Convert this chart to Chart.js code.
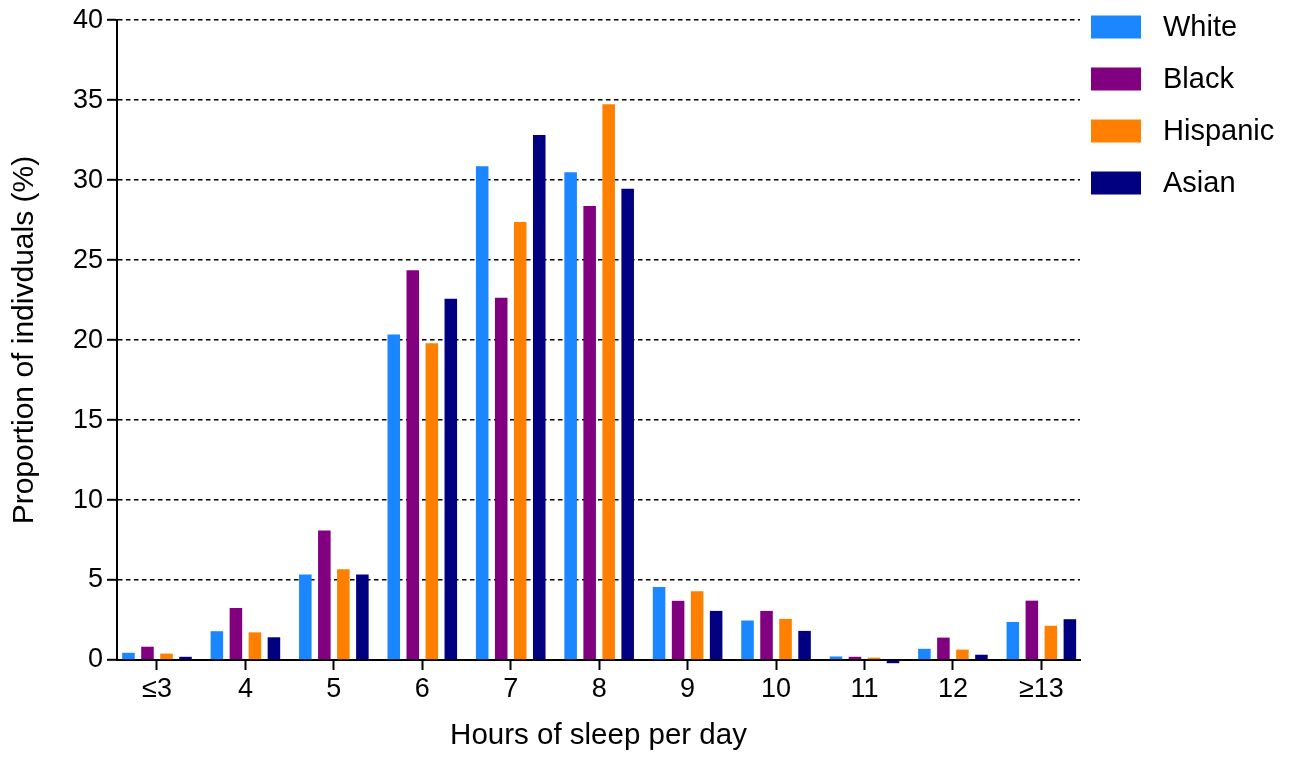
<!DOCTYPE html>
<html><head><meta charset="utf-8">
<script src="https://cdn.jsdelivr.net/npm/chart.js@4.4.1/dist/chart.umd.min.js"></script>
<style>html,body{margin:0;padding:0;background:#fff;} #wrap{width:1295px;height:759px;position:relative;}</style>
</head><body><div id="wrap"><canvas id="c"></canvas></div>
<script>
const categories = ['≤3','4','5','6','7','8','9','10','11','12','≥13'];
const seriesNames = ['White','Black','Hispanic','Asian'];
const white    = [0.45, 1.80, 5.35, 20.35, 30.87, 30.50, 4.56, 2.47, 0.22, 0.70, 2.38];
const black    = [0.83, 3.25, 8.10, 24.36, 22.64, 28.38, 3.70, 3.07, 0.20, 1.40, 3.71];
const hispanic = [0.40, 1.73, 5.67, 19.80, 27.39, 34.75, 4.30, 2.57, 0.15, 0.65, 2.14];
const asian    = [0.20, 1.42, 5.35, 22.58, 32.82, 29.46, 3.07, 1.82, -0.20, 0.33, 2.55];
const yTicks = [0, 5, 10, 15, 20, 25, 30, 35, 40];
const xTitle = 'Hours of sleep per day';
const yTitle = 'Proportion of indivduals (%)';
const colors = ['#1A86FF', '#800080', '#FF8000', '#000080'];

const FONT = "'Liberation Sans', Arial, sans-serif";
const seriesValues = [white, black, hispanic, asian];

const legendPlugin = {
  id: 'sideLegend',
  afterDraw(chart) {
    const ctx = chart.ctx;
    ctx.save();
    ctx.font = '29px ' + FONT;
    ctx.textBaseline = 'middle';
    ctx.textAlign = 'left';
    seriesNames.forEach((name, i) => {
      const cy = 27 + i * 52;
      ctx.fillStyle = colors[i];
      ctx.fillRect(1091, cy - 11.5, 50, 23);
      ctx.fillStyle = '#000';
      ctx.fillText(name, 1163, cy + 1);
    });
    ctx.restore();
  }
};

new Chart(document.getElementById('c'), {
  type: 'bar',
  data: {
    datasets: seriesNames.map((name, s) => ({
      label: name,
      data: seriesValues[s].map((v, i) => ({x: i, y: v})),
      backgroundColor: colors[s],
      borderWidth: 0,
      clip: false,
      categoryPercentage: 0.86,
      barPercentage: 0.66
    }))
  },
  options: {
    responsive: true,
    maintainAspectRatio: false,
    animation: false,
    devicePixelRatio: 1,
    layout: { padding: { left: 6, right: 215, top: 17, bottom: 5 } },
    plugins: { legend: { display: false }, tooltip: { enabled: false } },
    scales: {
      x: {
        type: 'linear',
        offset: false,
        min: -0.452,
        max: 10.437,
        afterBuildTicks: (scale) => { scale.ticks = categories.map((c, i) => ({ value: i })); },
        afterFit: (scale) => { scale.height = 94; },
        ticks: {
          callback: (v) => categories[Math.round(v)],
          color: '#000',
          font: { family: FONT, size: 27 },
          padding: 3,
          maxRotation: 0,
          autoSkip: false
        },
        grid: { offset: false, drawOnChartArea: false, drawTicks: true, tickLength: 10, tickWidth: 2, tickColor: '#000' },
        border: { display: true, color: '#000', width: 2 },
        title: { display: true, text: xTitle, color: '#000', font: { family: FONT, size: 29.5 }, padding: 0 }
      },
      y: {
        min: 0,
        max: 40,
        afterBuildTicks: (scale) => { scale.ticks = yTicks.map(v => ({ value: v })); },
        afterFit: (scale) => { scale.width = 111; },
        ticks: { color: '#000', font: { family: FONT, size: 27 }, padding: 4 },
        grid: { color: '#000', lineWidth: 1.6, drawTicks: true, tickLength: 10, tickWidth: 2, tickColor: '#000', tickBorderDash: [] },
        border: { display: true, color: '#000', width: 2, dash: [4.5, 3.5] },
        title: { display: true, text: yTitle, color: '#000', font: { family: FONT, size: 30 }, padding: { top: 1, bottom: 0 } }
      }
    }
  },
  plugins: [legendPlugin]
});
</script>
</body></html>
